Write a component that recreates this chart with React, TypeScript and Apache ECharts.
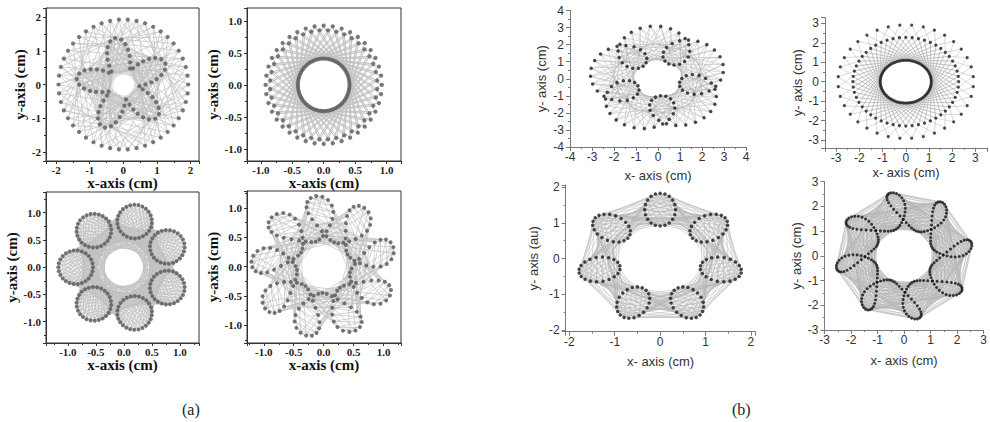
import React, { useEffect, useRef } from "react";
import * as echarts from "echarts";

type P = [number, number];
type Seg = [P, P];

// ---------- figure (a) : shape parameters ----------
// a1: outer ring of points + five-armed star
const a1Outer = [1.93, 46, 0]; // radius, points, start angle (deg)
const a1Star = [5, 1.4, 0.45, 64, 100, 0.7]; // arms, tip radius, notch radius, points, tip angle, sharpness
const a1Links = [30, -30, 55, -55]; // outer -> star angular offsets (deg)
const a1Chords = [14, 20, 26]; // star -> star index offsets
const a1Hole = [0.3];

// a2: two staggered outer rows + inner ring
const a2Rows = [0.925, 0.855];
const a2RowCount = [40];
const a2Inner = [0.41, 64, 0];
const a2Links = [62, -62, 50, -50];

// a3: seven circles
const a3Loops = [7, 0.86, 0.31, 0.31, 26, 180]; // count, centre radius, radial semi-axis, tangential semi-axis, points, first angle
const a3Hatch = [16];
const a3Steps = [2, 3];
const a3Shifts = [0, 7];
const a3Hole = [0.33];

// a4: nine-petal loop curve
const a4Curve = [9, 0.83, 0.38, 0.38, 180, 16, 0.2]; // petals, mid radius, swing, loop factor, points, tip angle, twist
const a4Hatch = [1, 2]; // skew of the chords across each petal
const a4Chords = [50, 70];
const a4Hole = [0.36];

// ---------- figure (b) ----------
const b1Curve = [5, 2.05, 1.05, 110, 24.5, 0]; // loops, A, B, points, rotation, twist
const b1Chords = [9, 14, 31];
const b1Hole = [0.95];

const b2Outer = [2.92, 36, 5];
const b2Mid = [2.28, 52, 0];
const b2Inner = [1.1, 72, 0];
const b2OuterLinks = [10, -10];
const b2InnerLinks = [52, -52, 62, -62];

const b3Loops = [7, 1.37, 0.46, 0.34, 20, 90];
const b3Hatch = [13];
const b3Steps = [1, 2];
const b3Shifts = [0, 5];
const b3Hole = [0.9];

const b4Curve = [8, 1.85, 0.75, 0.3, 240, 11, 0.15];
const b4Hatch = [2];
const b4Chords = [24, 33, 62, 78];
const b4Hole = [1.05];

// axis ranges [xmin, xmax, ymin, ymax, tick step]
const a1Range = [-2.3, 2.25, -2.27, 2.27, 1];
const a2Range = [-1.22, 1.23, -1.19, 1.2, 0.5];
const a3Range = [-1.39, 1.34, -1.39, 1.38, 0.5];
const a4Range = [-1.28, 1.29, -1.3, 1.29, 0.5];
const b1Range = [-4, 4, -4, 4, 1];
const b2Range = [-3.48, 3.5, -3.4, 3.3, 1];
const b3Range = [-2.08, 2.1, -2.05, 2.06, 1];
const b4Range = [-3, 3, -3, 3, 1];

const D = Math.PI / 180;

function ring(r: number, n: number, start: number): P[] {
  const out: P[] = [];
  for (let i = 0; i < n; i++) {
    const a = (start + (360 * i) / n) * D;
    out.push([r * Math.cos(a), r * Math.sin(a)]);
  }
  return out;
}

function resample(fn: (u: number) => P, n: number): P[] {
  const M = 2000;
  const fine: P[] = [];
  for (let i = 0; i <= M; i++) fine.push(fn(i / M));
  const cum = [0];
  for (let i = 1; i <= M; i++) cum.push(cum[i - 1] + Math.hypot(fine[i][0] - fine[i - 1][0], fine[i][1] - fine[i - 1][1]));
  const total = cum[M];
  const out: P[] = [];
  let k = 0;
  for (let j = 0; j < n; j++) {
    const target = (total * j) / n;
    while (k < M && cum[k + 1] < target) k++;
    out.push(fine[k]);
  }
  return out;
}

function star(arms: number, rTip: number, rIn: number, n: number, tip: number, sharp: number): P[] {
  return resample((u) => {
    const a = tip * D + 2 * Math.PI * u;
    const f = Math.pow(0.5 + 0.5 * Math.cos(arms * (a - tip * D)), sharp);
    const r = rIn + (rTip - rIn) * f;
    return [r * Math.cos(a), r * Math.sin(a)];
  }, n);
}

function trochoid(loops: number, A: number, B: number, n: number, rot: number, twist: number, epi: boolean): P[] {
  const k = epi ? loops + 1 : -(loops - 1);
  const out: P[] = [];
  for (let i = 0; i < n; i++) {
    const t = (2 * Math.PI * i) / n;
    const x = A * Math.cos(t) + B * Math.cos(k * t);
    const y = A * Math.sin(t) + B * Math.sin(k * t);
    const r = Math.hypot(x, y);
    const th = Math.atan2(y, x) + rot * D + twist * (r - (A + B));
    out.push([r * Math.cos(th), r * Math.sin(th)]);
  }
  return out;
}

function roseLoop(k: number, R0: number, R1: number, alpha: number, n: number, tip: number, twist: number): P[] {
  const out: P[] = [];
  for (let i = 0; i < n; i++) {
    const t = (2 * Math.PI * i) / n;
    const r = R0 + R1 * Math.cos(k * t);
    const th = t - alpha * Math.sin(k * t) + tip * D + twist * (r - (R0 + R1));
    out.push([r * Math.cos(th), r * Math.sin(th)]);
  }
  return out;
}

function loopGroups(count: number, cr: number, ra: number, rt: number, n: number, first: number): P[][] {
  const groups: P[][] = [];
  for (let c = 0; c < count; c++) {
    const a = (first + (360 * c) / count) * D;
    const ur: P = [Math.cos(a), Math.sin(a)];
    const ut: P = [-Math.sin(a), Math.cos(a)];
    const g: P[] = [];
    for (let j = 0; j < n; j++) {
      const f = (2 * Math.PI * j) / n;
      const u = ra * Math.cos(f);
      const v = rt * Math.sin(f);
      g.push([cr * ur[0] + u * ur[0] + v * ut[0], cr * ur[1] + u * ur[1] + v * ut[1]]);
    }
    groups.push(g);
  }
  return groups;
}

function segDist(p: P, q: P): number {
  const dx = q[0] - p[0];
  const dy = q[1] - p[1];
  const L2 = dx * dx + dy * dy || 1;
  let t = -(p[0] * dx + p[1] * dy) / L2;
  t = Math.max(0, Math.min(1, t));
  return Math.hypot(p[0] + t * dx, p[1] + t * dy);
}

function seqLinks(pts: P[], offs: number[], hole: number): Seg[] {
  const segs: Seg[] = [];
  const n = pts.length;
  for (let i = 0; i < n; i++) {
    for (const o of offs) {
      const p = pts[i];
      const q = pts[(i + o) % n];
      if (segDist(p, q) >= hole) segs.push([p, q]);
    }
  }
  return segs;
}

function angLinks(from: P[], to: P[], offs: number[]): Seg[] {
  const toAng = to.map((q) => Math.atan2(q[1], q[0]));
  const segs: Seg[] = [];
  for (const p of from) {
    const a = Math.atan2(p[1], p[0]);
    for (const d of offs) {
      const t = a + d * D;
      let best = 0;
      let bd = Infinity;
      toAng.forEach((b, k) => {
        const diff = Math.abs(Math.atan2(Math.sin(b - t), Math.cos(b - t)));
        if (diff < bd) {
          bd = diff;
          best = k;
        }
      });
      segs.push([p, to[best]]);
    }
  }
  return segs;
}

function hatch(groups: P[][], sums: number[]): Seg[] {
  const segs: Seg[] = [];
  for (const g of groups) {
    const n = g.length;
    for (const s of sums) {
      for (let j = 0; j < n; j++) {
        const q = (((s - j) % n) + n) % n;
        if (q > j) segs.push([g[j], g[q]]);
      }
    }
  }
  return segs;
}

function petalHatch(pts: P[], petals: number, skews: number[]): Seg[] {
  const n = pts.length;
  const m = n / petals;
  const segs: Seg[] = [];
  for (let p = 0; p < petals; p++) {
    const c = Math.round(p * m);
    for (const s of skews) {
      for (let j = 1; j < m * 0.42; j++) {
        const i1 = (((c + j) % n) + n) % n;
        const i2 = (((c - j + s) % n) + n) % n;
        segs.push([pts[i1], pts[i2]]);
      }
    }
  }
  return segs;
}

function groupLinks(groups: P[][], steps: number[], shifts: number[], hole: number): Seg[] {
  const segs: Seg[] = [];
  const m = groups.length;
  for (let c = 0; c < m; c++) {
    const g = groups[c];
    for (const s of steps) {
      const h = groups[(c + s) % m];
      for (let j = 0; j < g.length; j++) {
        for (const sh of shifts) {
          const p = g[j];
          const q = h[(j + sh) % h.length];
          if (segDist(p, q) >= hole) segs.push([p, q]);
        }
      }
    }
  }
  return segs;
}

type Panel = {
  kind: "a" | "b";
  grid: { left: number; top: number; width: number; height: number };
  range: number[];
  dec: number;
  xName: string;
  yName: string;
  xGap: number;
  yGap: number;
  pts: P[];
  segs: Seg[];
  size: number;
  color: string;
};

function buildPanels(): Panel[] {
  const a1o = ring(a1Outer[0], a1Outer[1], a1Outer[2]);
  const a1s = star(a1Star[0], a1Star[1], a1Star[2], a1Star[3], a1Star[4], a1Star[5]);
  const a1Segs = [...angLinks(a1o, a1s, a1Links), ...seqLinks(a1s, a1Chords, a1Hole[0])];

  const a2r1 = ring(a2Rows[0], a2RowCount[0], 0);
  const a2r2 = ring(a2Rows[1], a2RowCount[0], 180 / a2RowCount[0]);
  const a2i = ring(a2Inner[0], a2Inner[1], a2Inner[2]);
  const a2Segs = angLinks([...a2r1, ...a2r2], a2i, a2Links);

  const a3g = loopGroups(a3Loops[0], a3Loops[1], a3Loops[2], a3Loops[3], a3Loops[4], a3Loops[5]);
  const a3Segs = [...hatch(a3g, a3Hatch), ...groupLinks(a3g, a3Steps, a3Shifts, a3Hole[0])];

  const a4c = roseLoop(a4Curve[0], a4Curve[1], a4Curve[2], a4Curve[3], a4Curve[4], a4Curve[5], a4Curve[6]);
  const a4Segs = [...petalHatch(a4c, a4Curve[0], a4Hatch), ...seqLinks(a4c, a4Chords, a4Hole[0])];

  const b1c = trochoid(b1Curve[0], b1Curve[1], b1Curve[2], b1Curve[3], b1Curve[4], b1Curve[5], true);
  const b1Segs = seqLinks(b1c, b1Chords, b1Hole[0]);

  const b2o = ring(b2Outer[0], b2Outer[1], b2Outer[2]);
  const b2m = ring(b2Mid[0], b2Mid[1], b2Mid[2]);
  const b2i = ring(b2Inner[0], b2Inner[1], b2Inner[2]);
  const b2Segs = [...angLinks(b2o, b2m, b2OuterLinks), ...angLinks(b2m, b2i, b2InnerLinks)];

  const b3g = loopGroups(b3Loops[0], b3Loops[1], b3Loops[2], b3Loops[3], b3Loops[4], b3Loops[5]);
  const b3Segs = [...hatch(b3g, b3Hatch), ...groupLinks(b3g, b3Steps, b3Shifts, b3Hole[0])];

  const b4c = roseLoop(b4Curve[0], b4Curve[1], b4Curve[2], b4Curve[3], b4Curve[4], b4Curve[5], b4Curve[6]);
  const b4Segs = [...petalHatch(b4c, b4Curve[0], b4Hatch), ...seqLinks(b4c, b4Chords, b4Hole[0])];

  const ax = "x-axis (cm)";
  const ay = "y-axis (cm)";
  const bx = "x- axis (cm)";
  return [
    { kind: "a", grid: { left: 46, top: 8, width: 153, height: 153 }, range: a1Range, dec: 0, xName: ax, yName: ay, xGap: 13, yGap: 18.5, pts: [...a1o, ...a1s], segs: a1Segs, size: 4.2, color: "#5a5a5a" },
    { kind: "a", grid: { left: 247, top: 8, width: 154, height: 153 }, range: a2Range, dec: 1, xName: ax, yName: ay, xGap: 13, yGap: 23, pts: [...a2r1, ...a2r2, ...a2i], segs: a2Segs, size: 4.2, color: "#5a5a5a" },
    { kind: "a", grid: { left: 46, top: 192, width: 153, height: 151 }, range: a3Range, dec: 1, xName: ax, yName: ay, xGap: 12, yGap: 18.5, pts: a3g.flat(), segs: a3Segs, size: 4, color: "#555555" },
    { kind: "a", grid: { left: 247, top: 191, width: 154, height: 152 }, range: a4Range, dec: 1, xName: ax, yName: ay, xGap: 12, yGap: 23, pts: a4c, segs: a4Segs, size: 4, color: "#555555" },
    { kind: "b", grid: { left: 570, top: 10.5, width: 176, height: 136.5 }, range: b1Range, dec: 0, xName: bx, yName: "y- axis (cm)", xGap: 21.5, yGap: 22, pts: b1c, segs: b1Segs, size: 3.5, color: "#1e1e1e" },
    { kind: "b", grid: { left: 825, top: 17.5, width: 166.7, height: 130.3 }, range: b2Range, dec: 0, xName: bx, yName: "y- axis (cm)", xGap: 18.5, yGap: 19, pts: [...b2o, ...b2m, ...b2i], segs: b2Segs, size: 3.2, color: "#1e1e1e" },
    { kind: "b", grid: { left: 565.7, top: 185, width: 189.8, height: 146.7 }, range: b3Range, dec: 0, xName: bx, yName: "y- axis (au)", xGap: 23.5, yGap: 26, pts: b3g.flat(), segs: b3Segs, size: 3.5, color: "#1e1e1e" },
    { kind: "b", grid: { left: 824.5, top: 181.7, width: 160.5, height: 148.3 }, range: b4Range, dec: 0, xName: bx, yName: "y- axis (cm)", xGap: 23.5, yGap: 22, pts: b4c, segs: b4Segs, size: 3, color: "#111111" },
  ];
}

function buildOption() {
  const panels = buildPanels();
  const grids: any[] = [];
  const xAxes: any[] = [];
  const yAxes: any[] = [];
  const series: any[] = [];
  panels.forEach((p, i) => {
    const isA = p.kind === "a";
    const [xmin, xmax, ymin, ymax, step] = p.range;
    const col = isA ? "#333333" : "#7a7a7a";
    const fmt = (v: number) => {
      const k = v / step;
      if (Math.abs(k - Math.round(k)) > 1e-6) return "";
      const r = Math.round(v * 10) / 10 + 0;
      return p.dec ? r.toFixed(p.dec) : String(Math.round(r) + 0);
    };
    const labelStyle = isA
      ? { fontFamily: "Liberation Serif", fontWeight: "bold", fontSize: 11, color: "#222" }
      : { fontFamily: "Liberation Sans", fontSize: 12, color: "#333" };
    const nameStyle = isA
      ? { fontFamily: "Liberation Serif", fontWeight: "bold", fontSize: 15, color: "#111" }
      : { fontFamily: "Liberation Sans", fontSize: 13, color: "#333" };
    grids.push({
      ...p.grid,
      show: isA,
      borderColor: "#333",
      borderWidth: 1,
      backgroundColor: "transparent",
      containLabel: false,
    });
    const common = (min: number, max: number, name: string, gap: number, margin: number) => ({
      gridIndex: i,
      type: "value",
      min,
      max,
      minInterval: step,
      maxInterval: step,
      name,
      nameLocation: "middle",
      nameGap: gap,
      nameTextStyle: nameStyle,
      axisLine: { show: true, onZero: false, lineStyle: { color: col, width: 1 } },
      axisTick: { show: true, inside: false, length: isA ? 3 : 4, lineStyle: { color: col } },
      minorTick: { show: true, splitNumber: 2, length: 2, lineStyle: { color: col } },
      axisLabel: { ...labelStyle, margin, formatter: fmt, hideOverlap: false },
      splitLine: { show: false },
      minorSplitLine: { show: false },
    });
    xAxes.push(common(xmin, xmax, p.xName, p.xGap, isA ? 3 : 4));
    yAxes.push(common(ymin, ymax, p.yName, p.yGap, isA ? 5 : 6));
    series.push({
      type: "lines",
      coordinateSystem: "cartesian2d",
      xAxisIndex: i,
      yAxisIndex: i,
      silent: true,
      polyline: false,
      z: 2,
      lineStyle: { color: isA ? "#c2c2c2" : "#b4b4b4", width: isA ? 0.7 : 0.5, opacity: 1 },
      data: p.segs.map((s) => ({ coords: s })),
    });
    series.push({
      type: "scatter",
      xAxisIndex: i,
      yAxisIndex: i,
      silent: true,
      z: 3,
      symbol: "circle",
      symbolSize: p.size,
      itemStyle: { color: p.color },
      data: p.pts,
    });
  });
  return {
    animation: false,
    backgroundColor: "#ffffff",
    grid: grids,
    xAxis: xAxes,
    yAxis: yAxes,
    series,
    graphic: [
      { type: "text", left: 182, top: 401, style: { text: "(a)", font: "16px 'Liberation Serif'", fill: "#222" } },
      { type: "text", left: 732, top: 401, style: { text: "(b)", font: "16px 'Liberation Serif'", fill: "#222" } },
    ],
  };
}

export default function App() {
  const ref = useRef<HTMLDivElement>(null);
  useEffect(() => {
    if (!ref.current) return;
    const chart = echarts.init(ref.current, null, { renderer: "svg" });
    chart.setOption(buildOption() as any);
    return () => chart.dispose();
  }, []);
  return (
    <div
      ref={ref}
      style={{ position: "fixed", left: 0, top: 0, width: 990, height: 422, background: "#fff" }}
    />
  );
}
